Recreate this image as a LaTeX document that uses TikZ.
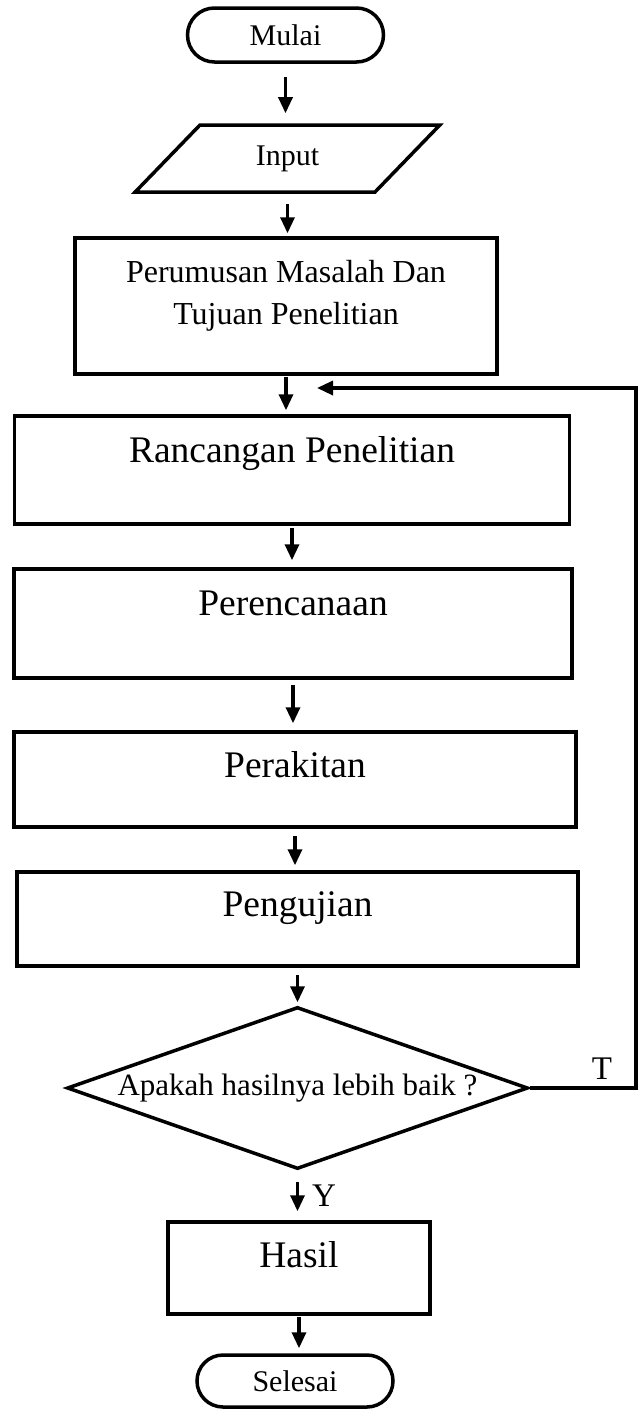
\documentclass[tikz,border=0pt]{standalone}
\usepackage{fontspec}
\setmainfont{Liberation Serif}
\usetikzlibrary{shapes,
	arrows.meta,
	positioning}

\tikzset{
	term/.style={draw, rounded rectangle, line width=3.5pt, inner sep=0pt,
		minimum width=196pt, minimum height=54pt, font=\fontsize{30}{36}\selectfont},
	io/.style={draw, trapezium, trapezium left angle=48, trapezium right angle=132,
		trapezium stretches=true, line width=3.5pt, inner sep=0pt,
		minimum width=305pt, minimum height=67pt, font=\fontsize{30}{36}\selectfont},
	proc/.style={draw, rectangle, line width=3.5pt, inner sep=0pt},
	bigtxt/.style={inner sep=0pt, font=\fontsize{37.5}{45}\selectfont},
	smalltxt/.style={inner sep=0pt, align=center, font=\fontsize{32}{42}\selectfont},
	cond/.style={draw, diamond, aspect=2.85, line width=3.5pt, inner sep=0pt,
		minimum width=461pt, minimum height=162pt, font=\fontsize{31}{37}\selectfont},
	arr/.style={line width=3.3pt, -{Triangle[length=16pt, width=14pt]}},
	lbl/.style={inner sep=0pt, font=\fontsize{33}{40}\selectfont}
}

\begin{document}
\begin{tikzpicture}[x=1pt, y=-1pt]
	\useasboundingbox (0, 0) rectangle (644, 1409);
	% start and input
	\node[term] (mulai) at (285.5, 35) {Mulai};
	\node[io] (input) at (287.5, 158.5) {Input};
	% process boxes
	\node[proc, minimum width=422pt, minimum height=136pt] (perumusan) at (286, 306) {};
	\node[smalltxt, below=24pt of perumusan.north] (perumusantxt) {Perumusan Masalah Dan\\Tujuan Penelitian};
	\node[proc, minimum width=555pt, minimum height=108pt] (rancangan) at (292, 470) {};
	\node[bigtxt, below=22pt of rancangan.north] (rancangantxt) {Rancangan Penelitian};
	\node[proc, minimum width=558pt, minimum height=109pt] (perencanaan) at (293, 623.5) {};
	\node[bigtxt, below=23pt of perencanaan.north] (perencanaantxt) {Perencanaan};
	\node[proc, minimum width=562pt, minimum height=95pt] (perakitan) at (295, 779.5) {};
	\node[bigtxt, below=21pt of perakitan.north] (perakitantxt) {Perakitan};
	\node[proc, minimum width=561pt, minimum height=94pt] (pengujian) at (297.5, 919) {};
	\node[bigtxt, below=21pt of pengujian.north] (pengujiantxt) {Pengujian};
	% decision
	\node[cond] (cek) at (297.5, 1088) {Apakah hasilnya lebih baik ?};
	% result and end
	\node[proc, minimum width=262pt, minimum height=92pt] (hasil) at (299, 1268) {};
	\node[bigtxt, below=21pt of hasil.north] (hasiltxt) {Hasil};
	\node[term, minimum height=52pt] (selesai) at (295, 1381) {Selesai};

	\foreach \a/\b/\s/\e in {mulai/input/13pt/10pt, input/perumusan/10pt/3pt,
		perumusan/rancangan/1pt/4pt, rancangan/perencanaan/2pt/7pt,
		perencanaan/perakitan/5pt/7pt, perakitan/pengujian/7pt/5pt,
		pengujian/cek/7pt/3pt, hasil/selesai/1pt/5pt} {
		\draw[arr, shorten <=\s, shorten >=\e] (\a.south) -- (\a.south |- \b.north);
	}
	\draw[arr, shorten <=11pt, shorten >=9pt] (cek.south) -- (cek.south |- hasil.north)
		node[lbl, midway, right=13pt] (ya) {Y};

	% loop back when not better
	\coordinate (balik) at (636, 388);
	\coordinate (masuk) at (317, 388);
	\draw[arr] (cek.east) -| node[lbl, pos=0.34, above=7pt] (tidak) {T} (balik) -- (masuk);
\end{tikzpicture}
\end{document}
